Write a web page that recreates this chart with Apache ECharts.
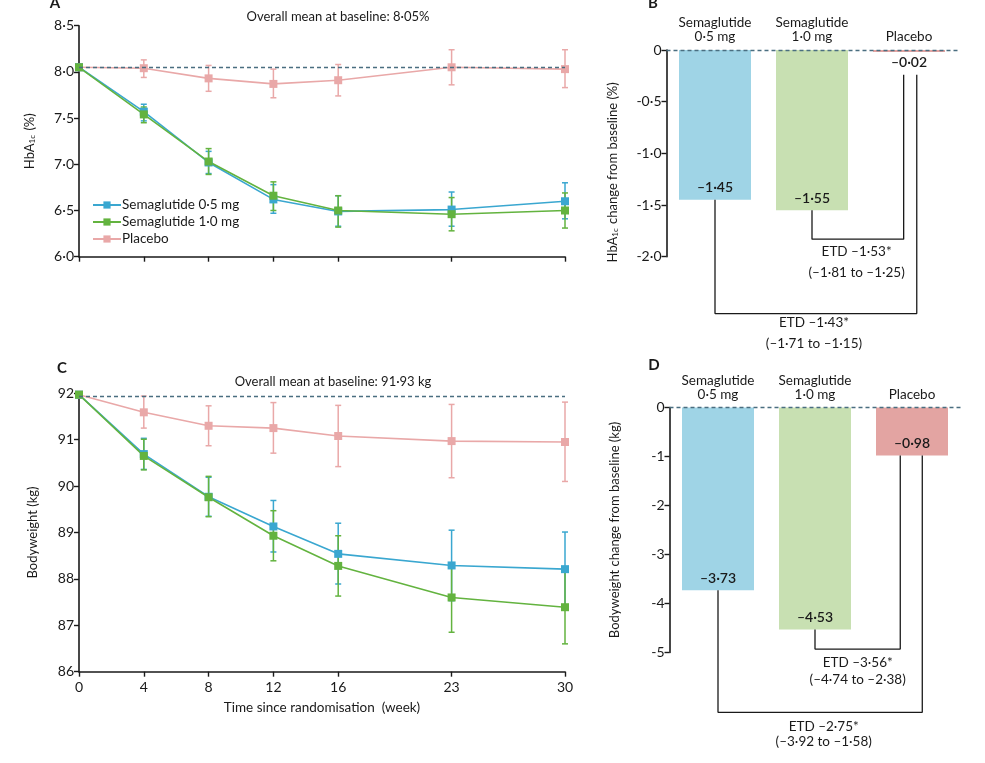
<!DOCTYPE html>
<html>
<head>
<meta charset="utf-8">
<script src="https://cdn.jsdelivr.net/npm/echarts@6/dist/echarts.min.js"></script>
<style>
  html, body { margin: 0; padding: 0; background: #fff; }
  #chart { width: 985px; height: 763px; }
</style>
</head>
<body>
<div id="chart"></div>
<script>
// weeks since randomisation
const weeks = [0, 4, 8, 12, 16, 23, 30];

// HbA1c (%) means and error bar ends
const hbaSema05 = [8.05, 7.57, 7.02, 6.62, 6.49, 6.51, 6.60];
const hbaSema05Lo = [null, 7.47, 6.90, 6.47, 6.33, 6.33, 6.41];
const hbaSema05Hi = [null, 7.65, 7.14, 6.78, 6.66, 6.70, 6.80];
const hbaSema10 = [8.05, 7.54, 7.03, 6.66, 6.50, 6.46, 6.50];
const hbaSema10Lo = [null, 7.45, 6.89, 6.50, 6.32, 6.28, 6.31];
const hbaSema10Hi = [null, 7.62, 7.17, 6.81, 6.66, 6.64, 6.69];
const hbaPlacebo = [8.05, 8.04, 7.93, 7.87, 7.91, 8.05, 8.03];
const hbaPlaceboLo = [null, 7.94, 7.79, 7.72, 7.74, 7.86, 7.83];
const hbaPlaceboHi = [null, 8.13, 8.07, 8.03, 8.08, 8.24, 8.24];
const hbaBaseline = 8.05;

// bodyweight (kg)
const bwSema05 = [91.97, 90.69, 89.77, 89.13, 88.54, 88.29, 88.21];
const bwSema05Lo = [null, 90.36, 89.35, 88.58, 87.89, 87.53, 87.41];
const bwSema05Hi = [null, 91.03, 90.19, 89.69, 89.20, 89.05, 89.01];
const bwSema10 = [91.97, 90.65, 89.76, 88.93, 88.28, 87.60, 87.39];
const bwSema10Lo = [null, 90.35, 89.34, 88.39, 87.63, 86.85, 86.60];
const bwSema10Hi = [null, 91.01, 90.21, 89.47, 88.93, 88.28, 88.21];
const bwPlacebo = [91.97, 91.59, 91.30, 91.25, 91.08, 90.97, 90.95];
const bwPlaceboLo = [null, 91.25, 90.87, 90.71, 90.42, 90.18, 90.10];
const bwPlaceboHi = [null, 91.94, 91.73, 91.80, 91.74, 91.76, 91.81];
const bwBaseline = 91.93;

// change from baseline at week 30
const arms = ['Semaglutide\n0·5 mg', 'Semaglutide\n1·0 mg', 'Placebo'];
const hbaChange = [-1.45, -1.55, -0.02];
const bwChange = [-3.73, -4.53, -0.98];

// estimated treatment differences vs placebo: [1.0 mg, 0.5 mg]
const etdHba = ['ETD –1·53*\n(–1·81 to –1·25)', 'ETD –1·43*\n(–1·71 to –1·15)'];
const etdBw = ['ETD –3·56*\n(–4·74 to –2·38)', 'ETD –2·75*\n(–3·92 to –1·58)'];

const legendNames = ['Semaglutide 0·5 mg', 'Semaglutide 1·0 mg', 'Placebo'];
const lineColors = ['#3aa7d0', '#63b33f', '#e9a8a8'];
const barColors = ['#9fd4e6', '#c8e0b2', '#e3a4a2'];

const FONT = 'Lato, "Open Sans", sans-serif';
const INK = '#1a1a1a';
const DASH = '#4a6e80';

const dot = (s) => s.replace('.', '·');
const signed = (v, d) => (v < 0 ? '–' : '') + dot(Math.abs(v).toFixed(d));

function errRender(color) {
  return function (params, api) {
    const x = api.value(0);
    const p1 = api.coord([x, api.value(1)]);
    const p2 = api.coord([x, api.value(2)]);
    const w = 3;
    const st = { stroke: color, lineWidth: 1.5 };
    return {
      type: 'group',
      children: [
        { type: 'line', shape: { x1: p1[0], y1: p1[1], x2: p2[0], y2: p2[1] }, style: st },
        { type: 'line', shape: { x1: p1[0] - w, y1: p1[1], x2: p1[0] + w, y2: p1[1] }, style: st },
        { type: 'line', shape: { x1: p2[0] - w, y1: p2[1], x2: p2[0] + w, y2: p2[1] }, style: st }
      ]
    };
  };
}

function lineSeries(name, vals, color, idx, extra) {
  return Object.assign({
    name: name,
    type: 'line',
    xAxisIndex: idx,
    yAxisIndex: idx,
    data: weeks.map((w, i) => [w, vals[i]]),
    symbol: 'rect',
    symbolSize: 8,
    lineStyle: { width: 1.6, color: color },
    itemStyle: { color: color },
    z: 3,
    animation: false
  }, extra || {});
}

function errSeries(lo, hi, color, idx) {
  return {
    type: 'custom',
    xAxisIndex: idx,
    yAxisIndex: idx,
    renderItem: errRender(color),
    encode: { x: 0, y: [1, 2] },
    data: weeks.map((w, i) => [w, lo[i], hi[i]]).filter((d) => d[1] != null),
    z: 2,
    silent: true,
    animation: false
  };
}

function baselineMark(v) {
  return {
    silent: true,
    symbol: 'none',
    label: { show: false },
    lineStyle: { type: [4, 3], color: DASH, width: 1.3 },
    data: [{ yAxis: v }]
  };
}

function barSeries(vals, idx, placeboInside) {
  return {
    type: 'bar',
    xAxisIndex: idx,
    yAxisIndex: idx,
    barWidth: 72,
    data: vals.map((v, i) => ({
      value: [i, v],
      itemStyle: { color: barColors[i] },
      label: (i === 2 && !placeboInside) ? { position: 'bottom', distance: 3 } : undefined
    })),
    label: {
      show: true,
      position: 'insideBottom',
      distance: 5,
      fontFamily: FONT,
      fontSize: 14,
      fontWeight: 600,
      color: INK,
      formatter: (p) => signed(p.value[1], 2)
    },
    markLine: baselineMark(0),
    animation: false
  };
}

// bracket from a semaglutide bar down, across and up to the placebo bar
function bracket(idx, fromX, fromY, low, toX, topY) {
  return {
    type: 'line',
    xAxisIndex: idx,
    yAxisIndex: idx,
    data: [[fromX, fromY], [fromX, low], [toX, low], [toX, topY]],
    symbol: 'none',
    lineStyle: { color: INK, width: 1.3 },
    clip: false,
    silent: true,
    z: 4,
    animation: false
  };
}

function note(idx, x, y, text, lh) {
  return {
    type: 'scatter',
    xAxisIndex: idx,
    yAxisIndex: idx,
    data: [[x, y]],
    symbolSize: 1,
    itemStyle: { color: 'rgba(0,0,0,0)' },
    clip: false,
    silent: true,
    label: {
      show: true,
      position: 'inside',
      formatter: text,
      fontFamily: FONT,
      fontSize: 13.5,
      lineHeight: lh,
      color: INK,
      opacity: 1,
      textBorderWidth: 0,
      align: 'center'
    },
    animation: false
  };
}

const axisLine = { show: true, onZero: false, lineStyle: { color: INK, width: 1.6 } };
const axisTick = { show: true, length: 5, lineStyle: { color: INK, width: 1.4 } };
const tickText = { fontFamily: FONT, fontSize: 14, color: INK, margin: 5 };
const nameText = { fontFamily: FONT, fontSize: 13, color: INK };

const weekAxis = (idx, showLabels, name) => ({
  type: 'value',
  gridIndex: idx,
  min: 0,
  max: 30,
  axisLine: axisLine,
  axisTick: Object.assign({ customValues: weeks }, axisTick),
  axisLabel: Object.assign({}, tickText, { show: showLabels, customValues: weeks, margin: 9 }),
  splitLine: { show: false },
  name: name || '',
  nameLocation: 'middle',
  nameGap: 29,
  nameTextStyle: Object.assign({}, nameText, { fontSize: 13.5 })
});

const armAxis = (idx) => ({
  type: 'value',
  gridIndex: idx,
  position: 'top',
  min: -0.5,
  max: 2.5,
  interval: 0.5,
  axisLine: { show: false, onZero: false },
  axisTick: { show: false },
  splitLine: { show: false },
  axisLabel: {
    show: true,
    fontFamily: FONT,
    fontSize: 13.5,
    lineHeight: 14,
    color: INK,
    margin: 6,
    formatter: (v) => (Math.abs(v - Math.round(v)) < 1e-6 && v >= 0 ? arms[Math.round(v)] : '')
  }
});

const subRich = { s: { fontFamily: FONT, fontSize: 8, color: INK, padding: [0, 1, -5, 0] } };

const option = {
  backgroundColor: '#fff',
  textStyle: { fontFamily: FONT },
  grid: [
    { left: 79, top: 25.7, width: 486, height: 231 },
    { left: 79, top: 393.3, width: 486, height: 278.4 },
    { left: 666.5, top: 50, width: 291, height: 206.7 },
    { left: 669.5, top: 407.5, width: 291, height: 245 }
  ],
  xAxis: [
    weekAxis(0, false),
    weekAxis(1, true, 'Time since randomisation  (week)'),
    armAxis(2),
    armAxis(3)
  ],
  yAxis: [
    {
      type: 'value', gridIndex: 0, min: 6, max: 8.5, interval: 0.5,
      axisLine: axisLine, axisTick: axisTick, splitLine: { show: false },
      axisLabel: Object.assign({ formatter: (v) => dot(v.toFixed(1)) }, tickText),
      name: 'HbA{s|1c} (%)', nameLocation: 'middle', nameRotate: 90, nameGap: 43,
      nameTextStyle: Object.assign({ rich: subRich }, nameText)
    },
    {
      type: 'value', gridIndex: 1, min: 86, max: 92, interval: 1,
      axisLine: axisLine, axisTick: axisTick, splitLine: { show: false },
      axisLabel: Object.assign({}, tickText),
      name: 'Bodyweight (kg)', nameLocation: 'middle', nameRotate: 90, nameGap: 40,
      nameTextStyle: nameText
    },
    {
      type: 'value', gridIndex: 2, min: -2, max: 0, interval: 0.5,
      axisLine: axisLine, axisTick: axisTick, splitLine: { show: false },
      axisLabel: Object.assign({ formatter: (v) => (v === 0 ? '0' : '-' + dot(Math.abs(v).toFixed(1))) }, tickText),
      name: 'HbA{s|1c} change from baseline (%)', nameLocation: 'middle', nameRotate: 90, nameGap: 47,
      nameTextStyle: Object.assign({ rich: subRich, padding: [0, 38, 0, 0] }, nameText)
    },
    {
      type: 'value', gridIndex: 3, min: -5, max: 0, interval: 1,
      axisLine: axisLine, axisTick: axisTick, splitLine: { show: false },
      axisLabel: Object.assign({ formatter: (v) => (v === 0 ? '0' : '-' + Math.abs(v)) }, tickText),
      name: 'Bodyweight change from baseline (kg)', nameLocation: 'middle', nameRotate: 90, nameGap: 48,
      nameTextStyle: nameText
    }
  ],
  legend: {
    data: legendNames,
    orient: 'vertical',
    left: 92,
    top: 198,
    padding: 0,
    itemWidth: 28,
    itemHeight: 9,
    itemGap: 3,
    textStyle: { fontFamily: FONT, fontSize: 13.5, color: INK, padding: [0, 0, 0, -4] },
    selectedMode: false
  },
  graphic: [
    { type: 'text', x: 55, y: 3, style: { text: 'A', font: 'bold 15px ' + FONT, fill: INK, align: 'center', verticalAlign: 'middle' } },
    { type: 'text', x: 653, y: 3, style: { text: 'B', font: 'bold 15px ' + FONT, fill: INK, align: 'center', verticalAlign: 'middle' } },
    { type: 'text', x: 62, y: 368, style: { text: 'C', font: 'bold 15px ' + FONT, fill: INK, align: 'center', verticalAlign: 'middle' } },
    { type: 'text', x: 654, y: 365, style: { text: 'D', font: 'bold 15px ' + FONT, fill: INK, align: 'center', verticalAlign: 'middle' } },
    { type: 'text', x: 338, y: 17, style: { text: 'Overall mean at baseline: ' + dot(hbaBaseline.toFixed(2)) + '%', font: '13px ' + FONT, fill: INK, align: 'center', verticalAlign: 'middle' } },
    { type: 'text', x: 333, y: 382, style: { text: 'Overall mean at baseline: ' + dot(bwBaseline.toFixed(2)) + ' kg', font: '13px ' + FONT, fill: INK, align: 'center', verticalAlign: 'middle' } }
  ],
  series: [
    // panel A
    lineSeries(legendNames[2], hbaPlacebo, lineColors[2], 0, { markLine: baselineMark(hbaBaseline) }),
    lineSeries(legendNames[0], hbaSema05, lineColors[0], 0),
    lineSeries(legendNames[1], hbaSema10, lineColors[1], 0),
    errSeries(hbaPlaceboLo, hbaPlaceboHi, lineColors[2], 0),
    errSeries(hbaSema05Lo, hbaSema05Hi, lineColors[0], 0),
    errSeries(hbaSema10Lo, hbaSema10Hi, lineColors[1], 0),
    // panel C
    lineSeries(legendNames[2], bwPlacebo, lineColors[2], 1, { markLine: baselineMark(bwBaseline) }),
    lineSeries(legendNames[0], bwSema05, lineColors[0], 1),
    lineSeries(legendNames[1], bwSema10, lineColors[1], 1),
    errSeries(bwPlaceboLo, bwPlaceboHi, lineColors[2], 1),
    errSeries(bwSema05Lo, bwSema05Hi, lineColors[0], 1),
    errSeries(bwSema10Lo, bwSema10Hi, lineColors[1], 1),
    // panel B
    barSeries(hbaChange, 2, false),
    bracket(2, 1, hbaChange[1], -1.83, 1.945, -0.24),
    bracket(2, 0, hbaChange[0], -2.55, 2.08, -0.24),
    note(2, 1.46, -2.05, etdHba[0], 21),
    note(2, 1.02, -2.74, etdHba[1], 21),
    // panel D
    barSeries(bwChange, 3, true),
    bracket(3, 1, bwChange[1], -4.93, 1.879, bwChange[2]),
    bracket(3, 0, bwChange[0], -6.22, 2.106, bwChange[2]),
    note(3, 1.44, -5.39, etdBw[0], 17),
    note(3, 1.09, -6.66, etdBw[1], 15)
  ]
};

const chart = echarts.init(document.getElementById('chart'));
chart.setOption(option);
</script>
</body>
</html>
